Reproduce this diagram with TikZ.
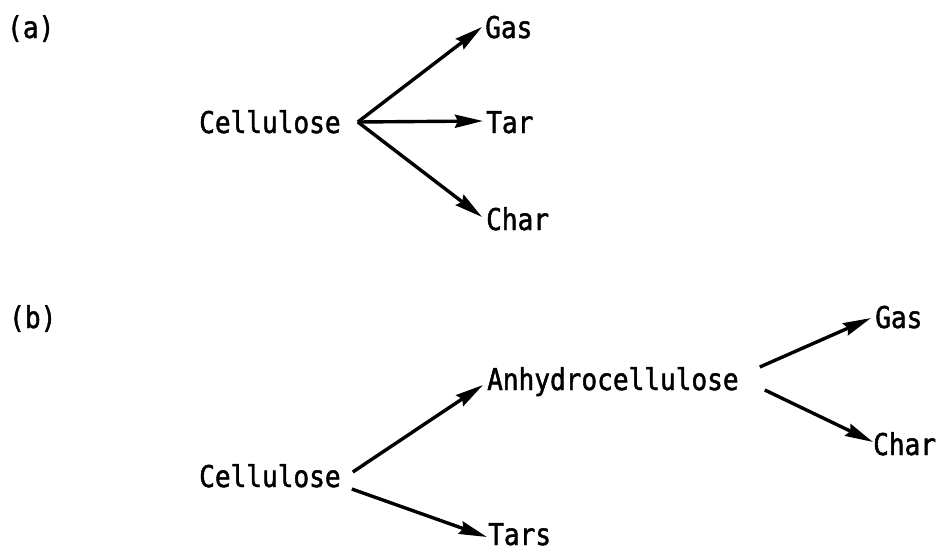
\documentclass[tikz,border=0pt]{standalone}
\usepackage{fontspec}
\usetikzlibrary{arrows.meta,calc}
\newfontfamily\typewriter[FakeStretch=0.87,FakeBold=1.5]{DejaVu Sans Mono}
\begin{document}
\begin{tikzpicture}[x=1pt,y=-1pt,
  lbl/.style={inner sep=0pt,anchor=base west,font=\typewriter\fontsize{30}{35}\selectfont},
  arr/.style={line width=3.4pt,-{Stealth[length=28pt,width=13pt,inset=3pt]}}]
\useasboundingbox (0,0) rectangle (941,551);

% ---- (a) one-step scheme
\node[lbl] (labA) at (7,38) {(a)};
\node[lbl] (celA) at (199,133) {Cellulose};
\node[lbl] (gasA) at (485,38) {Gas};
\node[lbl] (tarA) at (486,133) {Tar};
\node[lbl] (chaA) at (486,230) {Char};

\coordinate (forkA) at ($(celA.base east)+(17,-11)$);
\draw[arr] (forkA) -- ($(gasA.base west)+(-3,-11)$);
\draw[arr] (forkA) -- ($(tarA.base west)+(-3,-12)$);
\draw[arr] (forkA) -- ($(chaA.base west)+(-4,-13)$);

% ---- (b) Broido-Shafizadeh scheme
\node[lbl] (labB) at (9,328) {(b)};
\node[lbl] (celB) at (199,487) {Cellulose};
\node[lbl] (anhB) at (487,390) {Anhydrocellulose};
\node[lbl] (gasB) at (875,328) {Gas};
\node[lbl] (chaB) at (873,455) {Char};
\node[lbl] (tarB) at (488,545) {Tars};

\draw[arr] ($(celB.base east)+(12,-15)$) -- ($(anhB.base west)+(-4,-5)$);
\draw[arr] ($(celB.base east)+(11,2)$) -- ($(tarB.base west)+(-1,-8)$);
\draw[arr] ($(anhB.base east)+(21,-23)$) -- ($(gasB.base west)+(-4,-10)$);
\draw[arr] ($(anhB.base east)+(26,0)$) -- ($(chaB.base west)+(0,-13)$);
\end{tikzpicture}
\end{document}
